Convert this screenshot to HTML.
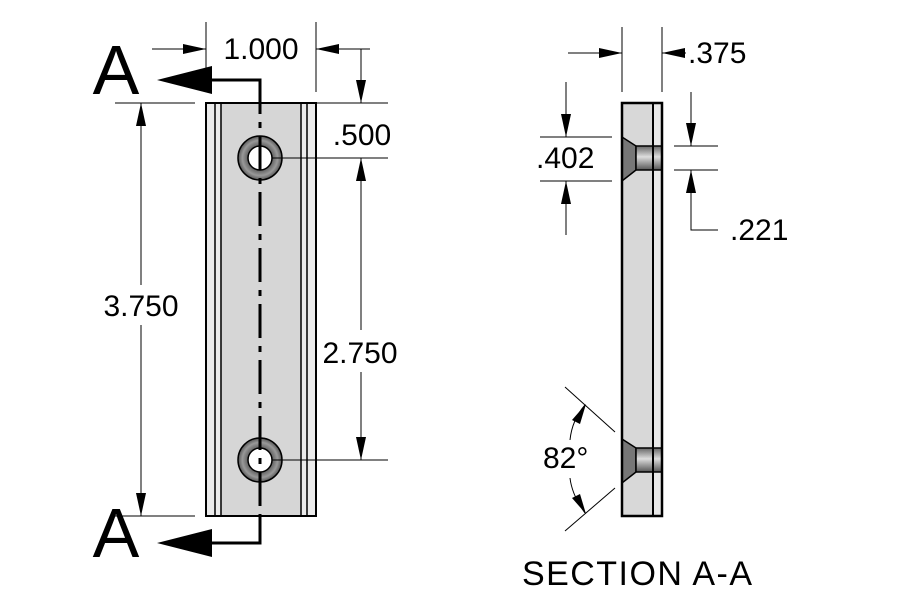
<!DOCTYPE html>
<html><head><meta charset="utf-8"><style>
html,body{margin:0;padding:0;background:#fff;}
svg{display:block;font-family:"Liberation Sans",Arial,sans-serif;}
</style></head><body>
<svg width="912" height="616" viewBox="0 0 912 616">
<defs>
<radialGradient id="ring" cx="0.5" cy="0.5" r="0.5">
<stop offset="0.5" stop-color="#555"/><stop offset="0.8" stop-color="#999"/><stop offset="1" stop-color="#555"/>
</radialGradient>
<linearGradient id="cyl" x1="0" y1="0" x2="0" y2="1">
<stop offset="0" stop-color="#666"/><stop offset="0.45" stop-color="#ddd"/><stop offset="1" stop-color="#555"/>
</linearGradient>
</defs>
<rect x="206" y="103" width="110" height="413" fill="#ebebeb" stroke="#000" stroke-width="2"/>
<rect x="221" y="103" width="80" height="413" fill="#d6d6d6"/>
<line x1="215" y1="103" x2="215" y2="516" stroke="#000" stroke-width="1.5"/>
<line x1="221" y1="103" x2="221" y2="516" stroke="#000" stroke-width="1.5"/>
<line x1="301" y1="103" x2="301" y2="516" stroke="#000" stroke-width="1.5"/>
<line x1="307" y1="103" x2="307" y2="516" stroke="#000" stroke-width="1.5"/>
<rect x="206" y="103" width="110" height="413" fill="none" stroke="#000" stroke-width="2"/>
<g stroke="#000" stroke-width="1.5">
<circle cx="260" cy="158" r="22" fill="url(#ring)"/><circle cx="260" cy="158" r="12" fill="#fff"/>
<circle cx="260" cy="460" r="22" fill="url(#ring)"/><circle cx="260" cy="460" r="12" fill="#fff"/>
</g>
<line x1="260" y1="80" x2="260" y2="543" stroke="#000" stroke-width="3" stroke-dasharray="34,8,6,8"/>
<polyline points="260,103 260,80 212,80" fill="none" stroke="#000" stroke-width="3"/>
<polygon points="157,80 212,66 212,94" fill="#000"/>
<polyline points="260,516 260,543 212,543" fill="none" stroke="#000" stroke-width="3"/>
<polygon points="157,543 212,529 212,557" fill="#000"/>
<text x="116" y="94" font-size="70" text-anchor="middle">A</text>
<text x="116" y="557" font-size="70" text-anchor="middle">A</text>
<g stroke="#000" stroke-width="1" fill="none">
<line x1="206" y1="22" x2="206" y2="92"/><line x1="316" y1="22" x2="316" y2="92"/>
<line x1="152" y1="49" x2="206" y2="49"/><line x1="316" y1="49" x2="370" y2="49"/>
<line x1="361" y1="49" x2="361" y2="103"/>
<line x1="316" y1="103" x2="388" y2="103"/>
<line x1="272" y1="158" x2="388" y2="158"/>
<line x1="272" y1="460" x2="388" y2="460"/>
<line x1="361" y1="158" x2="361" y2="330"/><line x1="361" y1="372" x2="361" y2="460"/>
<line x1="115" y1="103" x2="195" y2="103"/><line x1="115" y1="516" x2="195" y2="516"/>
<line x1="141" y1="103" x2="141" y2="285"/><line x1="141" y1="325" x2="141" y2="516"/>
</g>
<g fill="#000">
<polygon points="206,49 183,44 183,54"/><polygon points="316,49 339,44 339,54"/>
<polygon points="361,103 356,80 366,80"/>
<polygon points="361,158 356,181 366,181"/><polygon points="361,460 356,437 366,437"/>
<polygon points="141,103 136,126 146,126"/><polygon points="141,516 136,493 146,493"/>
</g>
<g font-size="30" text-anchor="middle">
<text x="261" y="59">1.000</text>
<text x="362" y="145">.500</text>
<text x="360" y="363">2.750</text>
<text x="141" y="316">3.750</text>
</g>
<rect x="622" y="103" width="40" height="413" fill="#d8d8d8"/>
<rect x="653" y="103" width="9" height="413" fill="#e8e8e8"/>
<g stroke="#000" stroke-width="1.5">
<polygon points="622,137 636,146 636,170 622,181" fill="#777"/>
<rect x="636" y="146" width="26" height="24" fill="url(#cyl)"/>
<polygon points="622,439 636,448 636,472 622,483" fill="#777"/>
<rect x="636" y="448" width="26" height="24" fill="url(#cyl)"/>
</g>
<line x1="653" y1="103" x2="653" y2="516" stroke="#000" stroke-width="2"/>
<rect x="622" y="103" width="40" height="413" fill="none" stroke="#000" stroke-width="2.5"/>
<g stroke="#000" stroke-width="1" fill="none">
<line x1="622" y1="27" x2="622" y2="92"/><line x1="662" y1="27" x2="662" y2="92"/>
<line x1="568" y1="53" x2="622" y2="53"/><line x1="662" y1="53" x2="686" y2="53"/>
<line x1="540" y1="137" x2="612" y2="137"/><line x1="540" y1="181" x2="612" y2="181"/>
<line x1="566" y1="82" x2="566" y2="137"/><line x1="566" y1="181" x2="566" y2="235"/>
<line x1="674" y1="146" x2="718" y2="146"/><line x1="674" y1="170" x2="718" y2="170"/>
<line x1="691" y1="92" x2="691" y2="146"/>
<polyline points="691,170 691,230 718,230"/>
<line x1="565" y1="387" x2="615" y2="432"/>
<line x1="565" y1="531" x2="615" y2="488"/>
<path d="M585,405 Q572,420 570,440"/>
<path d="M570,478 Q572,495 585,513"/>
</g>
<g fill="#000">
<polygon points="622,53 599,48 599,58"/><polygon points="662,53 685,48 685,58"/>
<polygon points="566,137 561,114 571,114"/><polygon points="566,181 561,204 571,204"/>
<polygon points="691,146 686,123 696,123"/><polygon points="691,170 686,193 696,193"/>
<polygon points="586,404 572,420 580,424"/>
<polygon points="586,514 572,498 580,494"/>
</g>
<g font-size="30">
<text x="688" y="63">.375</text>
<text x="536" y="168">.402</text>
<text x="730" y="240">.221</text>
<text x="543" y="468">82°</text>
<text x="522" y="585" font-size="34" textLength="230" lengthAdjust="spacing">SECTION A-A</text>
</g>
</svg>
</body></html>
